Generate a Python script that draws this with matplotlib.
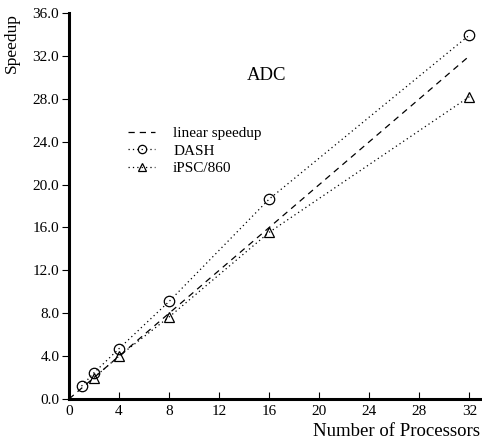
import matplotlib
matplotlib.use("Agg")
import matplotlib.pyplot as plt

plt.rcParams['font.family'] = ['Liberation Serif', 'DejaVu Serif']

procs_linear = [0, 32]
speed_linear = [0, 32]
procs_dash = [1, 2, 4, 8, 16, 32]
speed_dash = [1.2, 2.45, 4.7, 9.1, 18.65, 33.95]
procs_ipsc = [2, 4, 8, 16, 32]
speed_ipsc = [2.0, 4.0, 7.65, 15.55, 28.2]
xticks = [0, 4, 8, 12, 16, 20, 24, 28, 32]
yticks = [0, 4, 8, 12, 16, 20, 24, 28, 32, 36]

W, H = 482, 443
fig = plt.figure(figsize=(W/100, H/100), dpi=100)
ax = fig.add_axes([69/W, 1 - 399/H, 1 - 69/W, (399 - 13)/H])

ax.plot(procs_linear, speed_linear, ls=(0, (5, 4)), color='black', lw=0.9,
        label='linear speedup')
ax.plot(procs_dash, speed_dash, ls=(0, (1, 2.5)), color='black', lw=0.9,
        marker='o', ms=7.5, mfc='none', mec='black', mew=0.9, label='DASH')
ax.plot(procs_ipsc, speed_ipsc, ls=(0, (1, 2.5)), color='black', lw=0.9,
        marker='^', ms=7.5, mfc='none', mec='black', mew=0.9, label='iPSC/860')

ax.set_xlim(0, 33)
ax.set_ylim(0, 36)
ax.set_xticks(xticks)
ax.set_xticklabels([str(v) for v in xticks])
ax.set_yticks(yticks)
ax.set_yticklabels([f"{v:.1f}" for v in yticks])

for s in ['top', 'right']:
    ax.spines[s].set_visible(False)
for s in ['left', 'bottom']:
    ax.spines[s].set_linewidth(2.2)

ax.tick_params(axis='x', direction='in', length=5, width=0.8, labelsize=11, pad=4)
ax.tick_params(axis='y', direction='out', length=5, width=0.8, labelsize=11, pad=2)

ax.text(15.8, 30.2, 'ADC', fontsize=13.5, ha='center', va='center')

fig.text(12/W, 1 - 43/H, 'Speedup', rotation=90, fontsize=12.5, ha='center', va='center')
fig.text(480/W, 1 - 432/H, 'Number of Processors', fontsize=13.5, ha='right', va='center')

leg = ax.legend(loc='upper left', bbox_to_anchor=(0.128, 0.722), frameon=False,
                fontsize=11, handlelength=1.8, handletextpad=1.15,
                labelspacing=0.25, borderaxespad=0, markerscale=0.8)

fig.savefig('out.png', dpi=100)
